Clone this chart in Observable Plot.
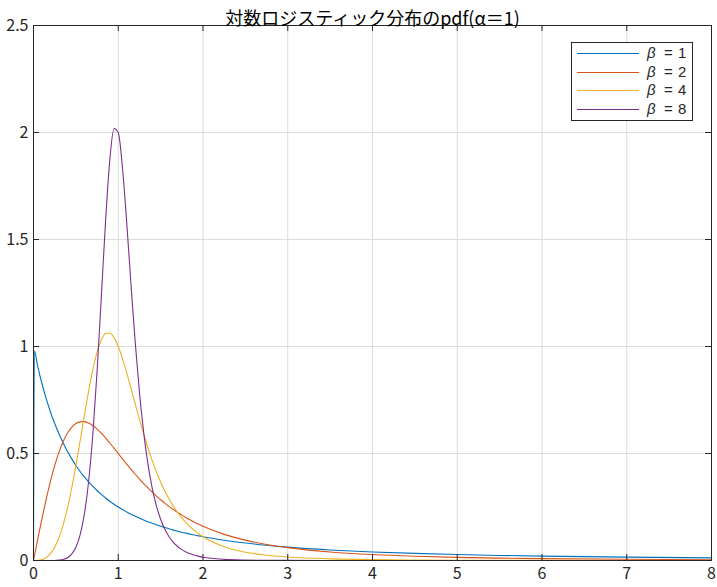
<!DOCTYPE html>
<html>
<head>
<meta charset="utf-8">
<script src="https://cdn.jsdelivr.net/npm/d3@7"></script>
<script src="https://cdn.jsdelivr.net/npm/@observablehq/plot@0.6"></script>
<style>
  body { margin: 0; background: #fff; }
  #wrap { position: relative; width: 717px; height: 587px; }
  #legend { position: absolute; left: 571px; top: 42px; width: 122px; height: 79px;
    border: 1px solid #262626; background: #fff; box-sizing: border-box;
    font-family: "Liberation Sans", "DejaVu Sans", sans-serif; font-size: 15px; color: #262626; }
  .row { position: absolute; left: 0; height: 18px; width: 100%; }
  .row .ln { position: absolute; left: 5px; width: 62px; top: 9px; height: 0; border-top: 1.2px solid; }
  .row .lb { position: absolute; top: 0; line-height: 18px; height: 18px; white-space: pre; }
</style>
</head>
<body>
<div id="wrap"></div>
<script>
const title = "対数ロジスティック分布のpdf(\u03B1\uFF1D1)";
const xTicks = [0, 1, 2, 3, 4, 5, 6, 7, 8];
const yTicks = [0, 0.5, 1, 1.5, 2, 2.5];
const betaValues = [1, 2, 4, 8];
const seriesNames = betaValues.map(b => `\u03B2 = ${b}`);
const colors = ["#0072BD", "#D95319", "#EDB120", "#7E2F8E"];

const xs = [0, 0.01, 0.05, 0.1, 0.15, 0.2, 0.25, 0.3, 0.35, 0.4, 0.45, 0.5, 0.55, 0.6, 0.65, 0.7, 0.75, 0.8, 0.85, 0.9, 0.95,
  1.0, 1.05, 1.1, 1.15, 1.2, 1.25, 1.3, 1.35, 1.4, 1.45, 1.5, 1.55, 1.6, 1.65, 1.7, 1.75, 1.8, 1.85, 1.9, 1.95, 2.0,
  2.25, 2.5, 2.75, 3, 3.5, 4, 4.5, 5, 5.5, 6, 7, 8];

const beta1 = [0, 0.980, 0.907, 0.826, 0.756, 0.694, 0.640, 0.592, 0.549, 0.510, 0.476, 0.444, 0.416, 0.391, 0.367, 0.346, 0.327, 0.309, 0.292, 0.277, 0.263,
  0.250, 0.238, 0.227, 0.216, 0.207, 0.198, 0.189, 0.181, 0.174, 0.167, 0.160, 0.154, 0.148, 0.142, 0.137, 0.132, 0.128, 0.123, 0.119, 0.115, 0.111,
  0.0947, 0.0816, 0.0711, 0.0625, 0.0494, 0.040, 0.0331, 0.0278, 0.0237, 0.0204, 0.0156, 0.0123];

const beta2 = [0, 0.020, 0.0995, 0.196, 0.287, 0.370, 0.443, 0.505, 0.556, 0.595, 0.622, 0.640, 0.648, 0.649, 0.642, 0.631, 0.614, 0.595, 0.573, 0.549, 0.525,
  0.500, 0.475, 0.450, 0.426, 0.403, 0.381, 0.359, 0.339, 0.320, 0.301, 0.284, 0.268, 0.252, 0.238, 0.225, 0.212, 0.200, 0.189, 0.179, 0.169, 0.160,
  0.122, 0.0951, 0.0750, 0.060, 0.0399, 0.0277, 0.0199, 0.0148, 0.0113, 0.0088, 0.0056, 0.0038];

const beta4 = [0, 0, 0.0005, 0.004, 0.0135, 0.0319, 0.0620, 0.1063, 0.1665, 0.2434, 0.3364, 0.4429, 0.5586, 0.6771, 0.7909, 0.8922, 0.9738, 1.0307, 1.0604, 1.0632, 1.0416,
  1.000, 0.9434, 0.8768, 0.805, 0.7317, 0.6597, 0.591, 0.527, 0.468, 0.415, 0.367, 0.325, 0.287, 0.254, 0.2247, 0.199, 0.1765, 0.1567, 0.1393, 0.1241, 0.1107,
  0.0642, 0.0389, 0.0246, 0.0161, 0.0075, 0.0039, 0.0022, 0.0013, 0.0008, 0.0005, 0.0002, 0.0001];

const beta8 = [0, 0, 0, 0, 0, 0, 0.0001, 0.0018, 0.0051, 0.0131, 0.0298, 0.0620, 0.1198, 0.2166, 0.3683, 0.5889, 0.8824, 1.2303, 1.5839, 1.870, 2.019,
  2.000, 1.834, 1.578, 1.292, 1.0206, 0.7874, 0.5986, 0.4516, 0.3396, 0.2553, 0.1928, 0.1461, 0.1112, 0.0851, 0.0656, 0.0508, 0.0396, 0.0311, 0.0245, 0.0194, 0.0155,
  0.0054, 0.0021, 0.0009, 0.0004, 0.0001, 0, 0, 0, 0, 0, 0, 0];

const seriesValues = [beta1, beta2, beta4, beta8];
const data = seriesValues.flatMap((vals, i) => vals.map((v, j) => ({x: xs[j], y: v, s: seriesNames[i]})));

const W = 717, H = 587, mL = 33, mR = 6, mT = 25, mB = 27;
const fw = W - mL - mR, fh = H - mT - mB, tk = 6;
const font = `"Noto Sans CJK JP", "Noto Sans", sans-serif`;

const chart = Plot.plot({
  width: W, height: H,
  marginLeft: mL, marginRight: mR, marginTop: mT, marginBottom: mB,
  style: {fontFamily: font, fontSize: "16px", color: "#262626", background: "#fff"},
  x: {domain: [0, 8]},
  y: {domain: [0, 2.5]},
  color: {domain: seriesNames, range: colors},
  marks: [
    Plot.gridX(xTicks, {stroke: "#dcdcdc", strokeOpacity: 1}),
    Plot.gridY(yTicks, {stroke: "#dcdcdc", strokeOpacity: 1}),
    Plot.line(data, {x: "x", y: "y", z: "s", stroke: "s", strokeWidth: 1.1, curve: "monotone-x"}),
    Plot.tickX(xTicks, {x: d => d, stroke: "#262626", insetTop: fh - tk}),
    Plot.tickX(xTicks, {x: d => d, stroke: "#262626", insetBottom: fh - tk}),
    Plot.tickY(yTicks, {y: d => d, stroke: "#262626", insetRight: fw - tk}),
    Plot.tickY(yTicks, {y: d => d, stroke: "#262626", insetLeft: fw - tk}),
    Plot.frame({stroke: "#262626", strokeWidth: 1}),
    Plot.axisX(xTicks, {tickSize: 0, tickPadding: 7, fontSize: 16, label: null, tickFormat: d => String(d)}),
    Plot.axisY(yTicks, {tickSize: 0, tickPadding: 5, fontSize: 16, label: null, tickFormat: d => String(d)}),
    Plot.text([title], {frameAnchor: "top", dy: -13, fontSize: 18, fill: "#000", text: d => d})
  ]
});

const wrap = document.getElementById("wrap");
wrap.appendChild(chart);

const legend = document.createElement("div");
legend.id = "legend";
betaValues.forEach((b, i) => {
  const row = document.createElement("div");
  row.className = "row";
  row.style.top = (1 + i * 18.7) + "px";
  const ln = document.createElement("div");
  ln.className = "ln";
  ln.style.borderTopColor = colors[i];
  row.appendChild(ln);
  [["\u03B2", 75, "italic"], ["=", 92, "normal"], [String(b), 106, "normal"]].forEach(([t, left, st]) => {
    const lb = document.createElement("div");
    lb.className = "lb";
    lb.style.left = left + "px";
    lb.style.fontStyle = st;
    lb.textContent = t;
    row.appendChild(lb);
  });
  legend.appendChild(row);
});
wrap.appendChild(legend);
</script>
</body>
</html>
